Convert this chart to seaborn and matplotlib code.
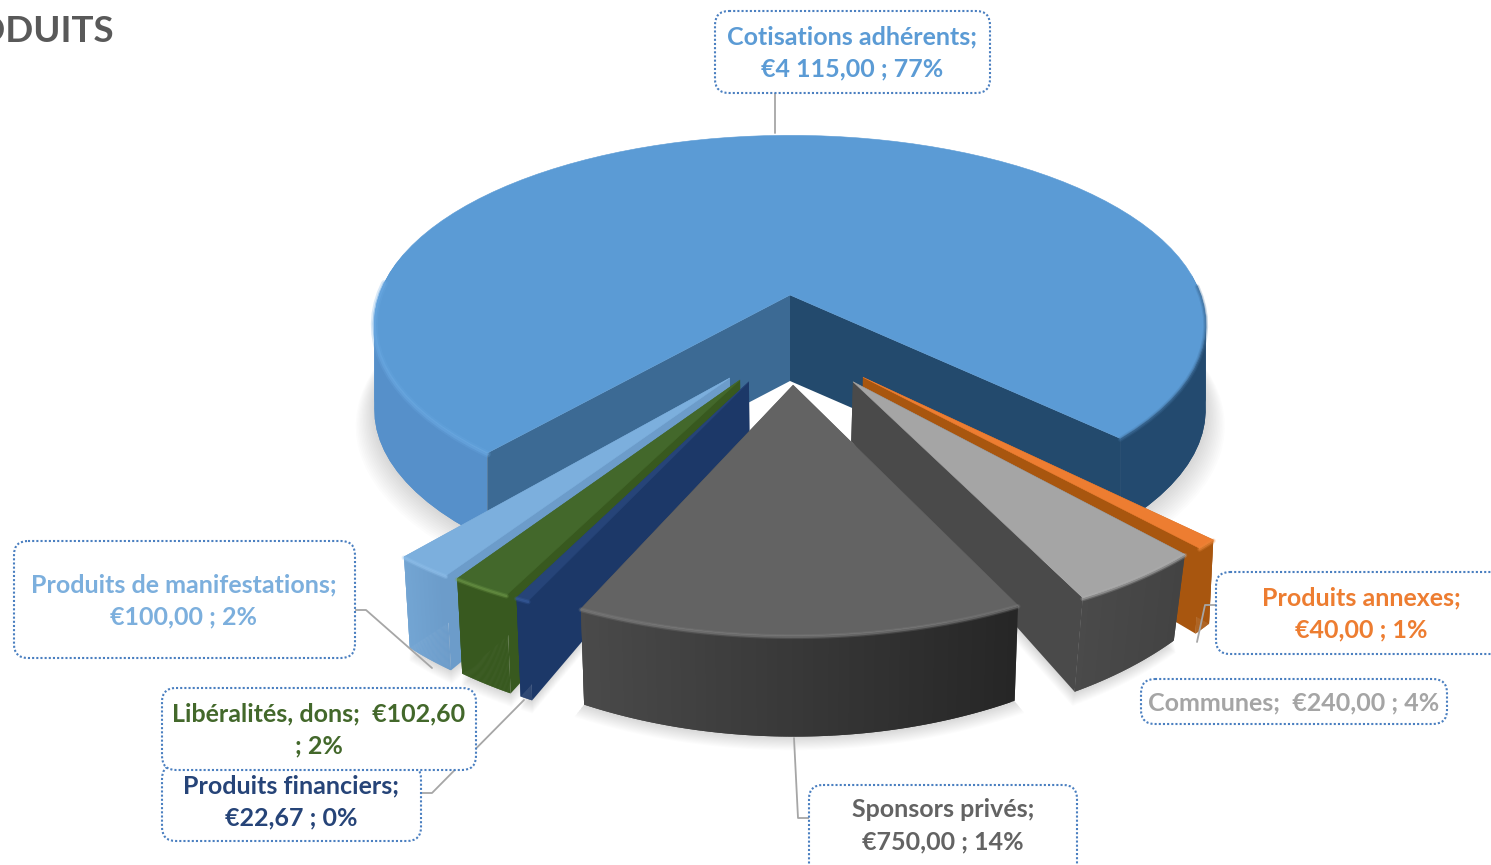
import numpy as np
import matplotlib
matplotlib.use("Agg")
import matplotlib.pyplot as plt
from matplotlib.patches import FancyBboxPatch
import seaborn as sns

# Data, clockwise from the big slice
names = ['Cotisations adhérents;', 'Produits annexes;', 'Communes;', 'Sponsors privés;',
         'Produits financiers;', 'Libéralités, dons;', 'Produits de manifestations;']
values = [4115.00, 40.00, 240.00, 750.00, 22.67, 102.60, 100.00]
amounts = ['€4 115,00 ; 77%', '€40,00 ; 1%', '€240,00 ; 4%', '€750,00 ; 14%',
           '€22,67 ; 0%', '€102,60', '€100,00 ; 2%']

# Look of each slice
top_cols = ['#5b9bd5', '#ed7d31', '#a5a5a5', '#636363', '#264478', '#43682b', '#7cafdd']
wall_left = ['#5690ca', '#a8560f', '#4a4a4a', '#4a4a4a', '#1c3868', '#38591f', '#74a6d4']
wall_right = ['#234a6f', '#a8560f', '#434343', '#262626', '#1c3868', '#38591f', '#6c9cca']
rim_cols = ['#6aa9e2', '#f08a3c', '#b4b4b4', '#858585', '#3c62a5', '#74a04e', '#93c3ee']
text_cols = ['#5b9bd5', '#ed7d31', '#a5a5a5', '#636363', '#264478', '#43682b', '#7cafdd']
shift_u = [0.0, 0.164, 0.141, 0.007, -0.092, -0.112, -0.135]
shift_v = [0.0, 0.400, 0.420, 0.435, 0.420, 0.412, 0.403]
radius = [1.0, 0.93, 0.93, 0.94, 0.93, 0.93, 0.93]
stretch_u = [1.0, 1.015, 1.0, 1.015, 1.03, 1.03, 1.03]
wall_pull = [1.0, 0.99, 0.972, 0.985, 0.985, 0.985, 0.985]

sns.set_theme(style='white')
plt.rcParams['font.family'] = ['Lato', 'DejaVu Sans']

fig = plt.figure(figsize=(14.91, 8.65), dpi=100)
ax = fig.add_axes([0, 0, 1, 1])
ax.set_xlim(0, 1491)
ax.set_ylim(865, 0)
ax.axis('off')

# projection of the pie's ground plane
cx, cy, rx, ry, persp = 790, 295, 411, 190, 0.19
start = -39.5


def project(u, v):
    s = 1 / (1 - persp * v)
    return cx + rx * u * s, cy + ry * v * s, s


def drop(i, u, v):
    # lower edge of a wall
    x, y, s = project(u, v)
    if i == 0:
        return x, y + 86
    extra = 51 if i >= 4 else 48.5
    return cx + (x - cx) * wall_pull[i], y + extra * s ** 2.5


def fill_wall(i, us, vs, col):
    x, y, s = project(us, vs)
    xb, yb = drop(i, us, vs)
    ax.fill(np.r_[x, xb[::-1]], np.r_[y, yb[::-1]], color=col, lw=0)


spans = 360 * np.array(values) / sum(values)
ends = start - np.cumsum(spans)
begins = ends + spans


def arc(i, n=90):
    t = np.radians(np.linspace(begins[i], ends[i], n))
    if i == 0:
        return t, np.sin(t), 0.97 * np.cos(t) - 0.03
    return t, shift_u[i] + radius[i] * stretch_u[i] * np.sin(t), shift_v[i] + radius[i] * 0.96 * np.cos(t)


# soft shadow under everything
for i in [0, 3, 2, 6, 5, 4]:
    t, us, vs = arc(i)
    xb, yb = drop(i, us, vs)
    ax_x, ax_y, _ = project(np.array(shift_u[i]), np.array(shift_v[i]))
    px = np.r_[xb, ax_x]
    py = np.r_[yb, ax_y + 60]
    mx, my = px.mean(), py.mean()
    for k in range(14):
        grow = 1 + k * 0.0035
        ax.fill(mx + (px - mx) * grow, my + (py - my) * grow + k * 1.0, color='black', alpha=0.011, lw=0)

left_wall, right_wall = '#3c6a94', '#234a6d'

# drawn from the back to the front
for i in [0, 6, 5, 4, 1, 2, 3]:
    t, us, vs = arc(i)
    au, av = shift_u[i], shift_v[i]
    n = len(t)
    first = np.array([au, us[0]]), np.array([av, vs[0]])
    last = np.array([au, us[-1]]), np.array([av, vs[-1]])
    # cut faces
    if i == 0:
        for k in range(n - 1):
            col = wall_left[0] if us[k] < 0 else wall_right[0]
            if vs[k] > -0.15:
                fill_wall(0, us[k:k + 3], vs[k:k + 3], col)
        fill_wall(0, *first, left_wall)
        fill_wall(0, *last, right_wall)
    else:
        if np.sin(np.radians((begins[i] + ends[i]) / 2)) < 0:
            fill_wall(i, *last, wall_right[i])
            fill_wall(i, *first, wall_right[i])
        else:
            fill_wall(i, *last, wall_left[i])
            fill_wall(i, *first, wall_left[i])
        c1 = np.array(matplotlib.colors.to_rgb(wall_left[i]))
        c2 = np.array(matplotlib.colors.to_rgb(wall_right[i]))
        xx = project(us, vs)[0]
        for k in range(n - 1):
            f = (xx[k] - xx.min()) / max(xx.max() - xx.min(), 1)
            fill_wall(i, us[k:k + 3], vs[k:k + 3], c1 + (c2 - c1) * f)
    # top face
    x, y, _ = project(np.r_[au, us], np.r_[av, vs])
    ax.fill(x, y, color=top_cols[i], lw=0.4)
    # bevel along the outer edge
    x, y, _ = project(us, vs)
    keep = vs > -0.1
    for w, a in [(5, 0.25), (2.5, 0.5)]:
        if i == 0:
            ax.plot(x[keep & (us < 0)], y[keep & (us < 0)] + 1, color=rim_cols[i], lw=w, alpha=a, solid_capstyle='round')
            ax.plot(x[keep & (us > 0)], y[keep & (us > 0)] + 1, color='#3f6f9c', lw=w * 0.7, alpha=a, solid_capstyle='round')
        else:
            ax.plot(x, y + 1, color=rim_cols[i], lw=w * 0.7, alpha=a, solid_capstyle='round')

# leader lines
lead = '#a6a6a6'
ax.plot([775, 775], [93, 133], color=lead, lw=1.3, zorder=4)
ax.plot([355, 366, 432], [610, 610, 668], color=lead, lw=1.3, zorder=4)
ax.plot([421, 432, 524], [793, 793, 700], color=lead, lw=1.3, zorder=4)
ax.plot([809, 798, 794], [818, 818, 738], color=lead, lw=1.3, zorder=4)
ax.plot([1216, 1205, 1197], [605, 605, 642], color=lead, lw=1.3, zorder=4)

# label boxes: x0, y0, x1, y1, text centre
boxes = [(715, 11, 990, 93, 852, 53), (1216, 572, 1510, 654, 1361, 614), (1141, 679, 1447, 724, 1294, 703),
         (809, 785, 1077, 890, 943, 826), (162, 765, 421, 841, 291, 802), (162, 688, 476, 770, 319, 730),
         (14, 541, 355, 658, 184, 601)]
texts = [names[0] + '\n' + amounts[0], names[1] + '\n' + amounts[1], names[2] + '  ' + amounts[2],
         names[3] + '\n' + amounts[3], names[4] + '\n' + amounts[4],
         names[5] + '  ' + amounts[5] + '\n; 2%', names[6] + '\n' + amounts[6]]
for n, (b, txt) in enumerate(zip(boxes, texts)):
    x0, y0, x1, y1, tx, ty = b
    i = names.index(txt.split('  ')[0].split('\n')[0])
    ax.add_patch(FancyBboxPatch((x0 + 12, y0 + 12), x1 - x0 - 24, y1 - y0 - 24,
                                boxstyle='round,pad=12,rounding_size=14', fc='white', ec='#4a7fc0',
                                lw=1.5, ls=(0, (1, 1)), zorder=5 + n * 0.1))
    ax.text(tx, ty, txt, color=text_cols[i], fontsize=18, fontweight='bold', ha='center', va='center',
            linespacing=1.5, zorder=6 + n * 0.1)

ax.text(114, 32, 'PRODUITS', color='#595959', fontsize=26.5, fontweight='bold', ha='right', va='center')

fig.savefig('out.png', dpi=100)
